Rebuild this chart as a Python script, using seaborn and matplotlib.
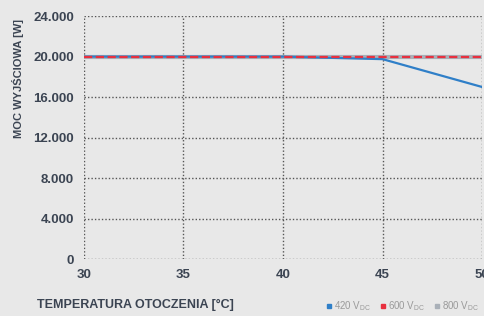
import matplotlib
matplotlib.use("Agg")
import matplotlib.pyplot as plt
from matplotlib.lines import Line2D
from matplotlib.ticker import FuncFormatter
import pandas as pd
import seaborn as sns

temperature = [30, 35, 40, 45, 50]
power_420 = [20000, 20000, 20000, 19750, 17000]
power_600 = [20000, 20000, 20000, 20000, 20000]
power_800 = [20000, 20000, 20000, 20000, 20000]
y_ticks = [0, 4000, 8000, 12000, 16000, 20000, 24000]

BG = "#e8e8e8"
TXT = "#3b4452"

sns.set_theme(style="white")
plt.rcParams["font.family"] = ["Liberation Sans", "DejaVu Sans"]
plt.rcParams["font.weight"] = "bold"

df = pd.DataFrame({"t": temperature, "p420": power_420,
                   "p600": power_600, "p800": power_800})

fig = plt.figure(figsize=(4.85, 3.16), dpi=100, facecolor=BG)
ax = fig.add_axes([0.173, 0.180, 0.821, 0.769])
ax.set_facecolor(BG)

sns.lineplot(data=df, x="t", y="p800", ax=ax, color="#a9b0b8", lw=3.0)
sns.lineplot(data=df, x="t", y="p420", ax=ax, color="#2f7fc8", lw=1.6)
sns.lineplot(data=df, x="t", y="p600", ax=ax, color="#e8303f", lw=1.6,
             dashes=(5, 4), linestyle="--")

ax.set_xlim(30, 50)
ax.set_ylim(0, 24000)
ax.set_xticks(temperature)
ax.set_yticks(y_ticks)
ax.yaxis.set_major_formatter(FuncFormatter(lambda v, p: f"{int(v):,}".replace(",", ".")))
ax.grid(True, color="#555555", linestyle=(0, (1, 1.5)), linewidth=1.0)
ax.set_axisbelow(True)
for s in ax.spines.values():
    s.set_visible(False)
ax.tick_params(length=0, pad=7, labelsize=9.5, labelcolor=TXT)
for lab in ax.get_xticklabels() + ax.get_yticklabels():
    lab.set_fontweight("bold")
ax.set_xlabel("")
ax.set_ylabel("")

fig.text(0.037, 0.75, "MOC WYJŚCIOWA [W]", rotation=90, ha="center", va="center",
         fontsize=8, fontweight="bold", color=TXT)
fig.text(0.076, 0.035, "TEMPERATURA OTOCZENIA [°C]", ha="left", va="center",
         fontsize=9, fontweight="bold", color=TXT)

handles = [
    Line2D([], [], marker="s", ls="", color="#2f7fc8", markersize=3.5),
    Line2D([], [], marker="s", ls="", color="#e8303f", markersize=3.5),
    Line2D([], [], marker="s", ls="", color="#a9b0b8", markersize=3.5),
]
labels = [r"420 V$_{\mathregular{DC}}$", r"600 V$_{\mathregular{DC}}$",
          r"800 V$_{\mathregular{DC}}$"]
leg = fig.legend(handles, labels, loc="center right", bbox_to_anchor=(0.995, 0.03),
                 ncol=3, frameon=False, fontsize=7, handletextpad=0.2,
                 columnspacing=0.9, handlelength=0.6, borderaxespad=0)
for t in leg.get_texts():
    t.set_color("#9a9a9a")
    t.set_fontweight("normal")

fig.savefig("out.png", dpi=100, facecolor=BG)
